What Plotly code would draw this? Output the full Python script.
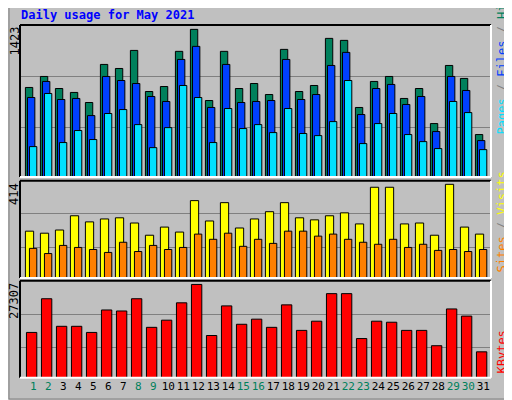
import plotly.graph_objects as go
from plotly.subplots import make_subplots

days = list(range(1, 32))
weekend = [1, 2, 8, 9, 15, 16, 22, 23, 29, 30]

hits = [863, 969, 853, 815, 718, 1085, 1046, 1220, 824, 872, 1211, 1423, 737, 1211, 853, 901,
        795, 1230, 824, 882, 1336, 1317, 670, 921, 969, 757, 853, 515, 1075, 950, 409]
files = [766, 921, 747, 757, 592, 969, 930, 901, 776, 728, 1133, 1259, 670, 1085, 718, 728,
         737, 1133, 747, 795, 1075, 1201, 602, 853, 892, 699, 776, 438, 969, 834, 351]
pages = [293, 805, 332, 448, 361, 612, 650, 505, 283, 476, 882, 766, 332, 660, 467, 505,
         428, 660, 419, 399, 534, 930, 322, 515, 612, 409, 341, 274, 728, 621, 264]
visits = [207, 198, 212, 275, 248, 261, 266, 243, 189, 225, 203, 342, 252, 333, 221, 261,
          293, 333, 266, 257, 275, 288, 239, 401, 401, 239, 243, 189, 414, 225, 194]
sites = [131, 108, 144, 135, 126, 113, 158, 117, 144, 126, 135, 194, 171, 198, 140, 171,
         153, 207, 207, 185, 194, 171, 158, 149, 171, 135, 149, 122, 126, 117, 126]
kbytes = [13255, 23121, 15049, 15049, 13255, 19832, 19533, 23121, 14749, 16842, 21925, 27307,
          12358, 21028, 15646, 17141, 14749, 21327, 13853, 16543, 24616, 24616, 11461, 16543,
          16244, 13853, 13853, 9368, 20131, 18038, 7574]

# page is shown with an 8px body margin, so the figure is 504x392
W, H = 504, 392
def px(x):
    return (x - 8) / W
def py(y_from_bottom):
    return y_from_bottom / H

fig = make_subplots(rows=3, cols=1)
line = dict(color="black", width=1)

def bars(y, color, off, w, row):
    fig.add_trace(go.Bar(x=days, y=y, marker=dict(color=color, line=line),
                         offset=off, width=w, hoverinfo="skip"), row=row, col=1)

bars(hits, "#00805c", -0.53, 0.49, 1)
bars(files, "#0040ff", -0.39, 0.49, 1)
bars(pages, "#00e0ff", -0.26, 0.49, 1)
bars(visits, "#ffff00", -0.53, 0.55, 2)
bars(sites, "#ff8000", -0.26, 0.49, 2)
bars(kbytes, "#ff0000", -0.46, 0.69, 3)

mono = "DejaVu Sans Mono"
ticktext = [f"<span style='color:{'#00805c' if d in weekend else 'black'}'>{d}</span>" for d in days]

xd = [px(20), px(491)]
doms = [(py(223), py(375)), (py(122), py(219.3)), (py(22.3), py(119.3))]
yr = [(1465, [476, 969]), (430, [135, 283]), (28403, [8770, 18636])]
for i in range(3):
    fig.update_xaxes(row=i + 1, col=1, domain=xd, range=[0.11, 31.51],
                     tickvals=days, ticktext=ticktext, showticklabels=(i == 2), tickangle=0,
                     tickfont=dict(family=mono, size=11), ticks="", showgrid=False, zeroline=False)
    fig.update_yaxes(row=i + 1, col=1, domain=list(doms[i]), range=[0, yr[i][0]],
                     tickvals=yr[i][1], showticklabels=False, gridcolor="#808080",
                     gridwidth=1, zeroline=False)

shapes = [dict(type="rect", xref="paper", yref="paper", x0=px(9), y0=py(1), x1=px(511), y1=py(399),
               line=dict(color="#808080", width=1), layer="below")]
for y0, y1 in doms:
    x0, x1 = xd
    shapes += [
        dict(type="line", xref="paper", yref="paper", x0=x0, x1=x0, y0=y0, y1=y1, line=dict(color="black", width=2)),
        dict(type="line", xref="paper", yref="paper", x0=x0, x1=x1, y0=y1, y1=y1, line=dict(color="black", width=2)),
        dict(type="line", xref="paper", yref="paper", x0=x1, x1=x1, y0=y0, y1=y1, line=dict(color="white", width=2)),
        dict(type="line", xref="paper", yref="paper", x0=x0, x1=x1, y0=y0, y1=y0, line=dict(color="white", width=2)),
    ]

f12 = dict(size=12, family=mono, color="black")
ann = [
    dict(text="<b>Daily usage for May 2021</b>", x=19, y=385, xanchor="left", yanchor="middle",
         font=dict(color="#0000ff", size=12, family=mono)),
    dict(text="1423", x=14, y=375, textangle=-90, xanchor="center", yanchor="top", font=f12),
    dict(text="414", x=14, y=219, textangle=-90, xanchor="center", yanchor="top", font=f12),
    dict(text="27307", x=14, y=119, textangle=-90, xanchor="center", yanchor="top", font=f12),
    dict(text="<span style='color:#00e0ff'>Pages</span> / <span style='color:#0040ff'>Files</span> / <span style='color:#00805c'>Hits</span>",
         x=501, y=263, textangle=-90, xanchor="center", yanchor="bottom", font=dict(size=12, family=mono, color="#808080")),
    dict(text="<span style='color:#ff8000'>Sites</span> / <span style='color:#ffff00'>Visits</span>",
         x=501, y=125, textangle=-90, xanchor="center", yanchor="bottom", font=dict(size=12, family=mono, color="#808080")),
    dict(text="<span style='color:#ff0000'>KBytes</span>",
         x=501, y=24, textangle=-90, xanchor="center", yanchor="bottom", font=dict(size=12, family=mono)),
]
for a in ann:
    a.update(xref="paper", yref="paper", showarrow=False, x=px(a["x"]), y=py(a["y"]))

fig.update_layout(width=W, height=H, margin=dict(l=0, r=0, t=0, b=0),
                  paper_bgcolor="#c0c0c0", plot_bgcolor="#c0c0c0", barmode="overlay",
                  showlegend=False, shapes=shapes, annotations=ann)
fig.write_html("out.html")
